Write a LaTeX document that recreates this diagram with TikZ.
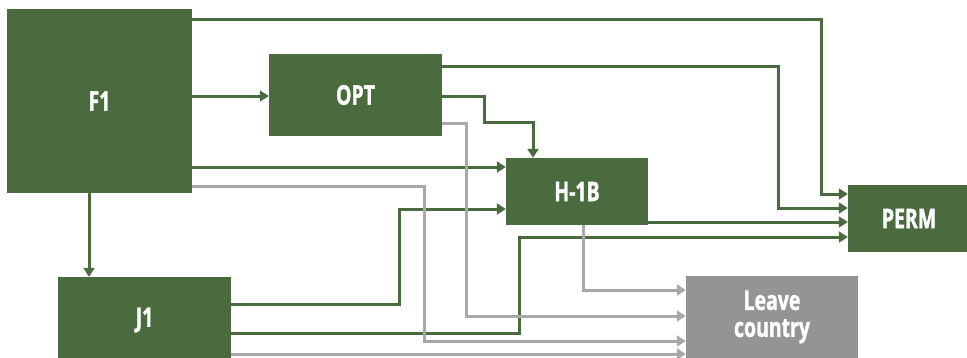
\documentclass[tikz,border=0pt]{standalone}
\usepackage{fontspec}
\newfontfamily\boxfont[FakeStretch=0.72, BoldFeatures={FakeBold=1.3}]{Open Sans}
\usepackage{tikz}
\usetikzlibrary{arrows.meta,positioning}
\definecolor{visagreen}{RGB}{74,107,61}
\definecolor{visagray}{RGB}{148,148,148}
\definecolor{linegray}{RGB}{168,168,168}
\tikzset{
	stage/.style={fill=visagreen, text=white, inner sep=0pt, align=center,
		font=\boxfont\bfseries\fontsize{27}{27}\selectfont},
	exitbox/.style={stage, fill=visagray},
	gline/.style={visagreen, line width=3pt, -{Triangle[length=9pt,width=11pt]}},
	eline/.style={linegray, line width=3pt, -{Triangle[length=9pt,width=11pt]}},
}

\begin{document}
\begin{tikzpicture}[x=1pt, y=-1pt]
	\useasboundingbox (0,0) rectangle (967,357);
	\node[stage, minimum width=185pt, minimum height=184pt] at (99.5,101) (F1) {F1};
	\node[stage, minimum width=173pt, minimum height=82pt] at (355.5,95) (OPT) {OPT};
	\node[stage, minimum width=142pt, minimum height=67pt] at (577,191.5) (H1B) {H-1B};
	\node[stage, minimum width=122pt, minimum height=67pt] at (909,218.5) (PERM) {PERM};
	\node[stage, minimum width=173pt, minimum height=86pt] at (144.5,320) (J1) {J1};
	\node[exitbox, minimum width=172pt, minimum height=82pt] at (772,317) (leave) {Leave\\country};
	% green paths
	\draw[gline] (F1.east |- 0,19) -| (821,194) -- (PERM.west |- 0,194);
	\draw[gline] (F1.east |- 0,96) -- (OPT.west |- 0,96);
	\draw[gline] (F1.east |- 0,167) -- (H1B.west |- 0,167);
	\draw[gline] (F1.south -| 89,0) -- (J1.north -| 89,0);
	\draw[gline] (OPT.east |- 0,66) -| (778,208) -- (PERM.west |- 0,208);
	\draw[gline] (OPT.east |- 0,96) -| (484,122) -| (H1B.north -| 533,0);
	\draw[gline] (H1B.east |- 0,222) -- (PERM.west |- 0,222);
	\draw[gline] (J1.east |- 0,304) -| (399,209) -- (H1B.west |- 0,209);
	\draw[gline] (J1.east |- 0,333) -| (519,237) -- (PERM.west |- 0,237);
	% gray paths
	\draw[eline] (F1.east |- 0,186) -| (424,341) -- (leave.west |- 0,341);
	\draw[eline] (OPT.east |- 0,123) -| (466,316) -- (leave.west |- 0,316);
	\draw[eline] (H1B.south -| 583,0) |- (leave.west |- 0,290);
	\draw[eline] (J1.east |- 0,354) -- (leave.west |- 0,354);
\end{tikzpicture}
\end{document}
